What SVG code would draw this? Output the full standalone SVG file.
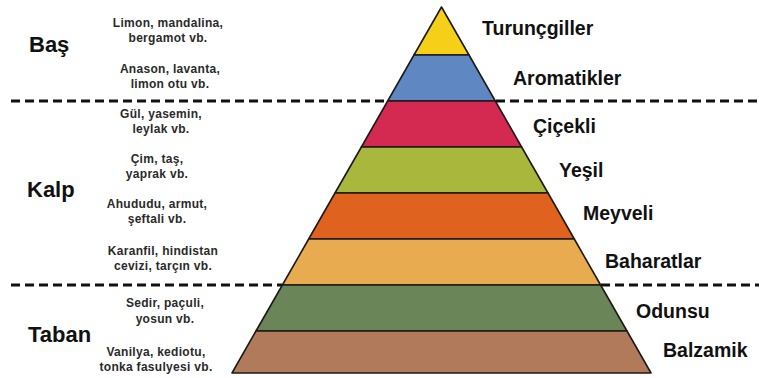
<svg xmlns="http://www.w3.org/2000/svg" width="759" height="378" viewBox="0 0 759 378">
  <style>
    .layer { stroke: #1c1a18; stroke-width: 1.6; stroke-linejoin: round; }
    .dash { stroke: #111; stroke-width: 3; stroke-dasharray: 9 5; fill: none; }
    .big { font-family: "Liberation Sans", Arial, sans-serif; font-weight: bold; font-size: 22px; fill: #111; }
    .note { font-family: "Liberation Sans", Arial, sans-serif; font-weight: bold; font-size: 12px; letter-spacing: 0.3px; fill: #2a2a2a; text-anchor: middle; }
    .cat { font-family: "Liberation Sans", Arial, sans-serif; font-weight: bold; font-size: 19.5px; fill: #111; }
  </style>
  <rect width="759" height="378" fill="#ffffff"/>

  <g id="connectors">
    <line class="dash" x1="11" y1="101" x2="387" y2="101"/>
    <line class="dash" x1="496" y1="101" x2="759" y2="101"/>
    <line class="dash" x1="11" y1="285" x2="282" y2="285"/>
    <line class="dash" x1="601" y1="285" x2="759" y2="285"/>
  </g>

  <g id="pyramid">
    <g id="turuncgiller">
      <polygon class="layer" fill="#f6d018" points="441.5,7 469,55 414,55"/>
      <text class="cat" x="482" y="35">Turunçgiller</text>
    </g>
    <g id="aromatikler">
      <polygon class="layer" fill="#5f88c3" points="414,55 469,55 495.3,101 387.7,101"/>
      <text class="cat" x="513" y="85">Aromatikler</text>
    </g>
    <g id="cicekli">
      <polygon class="layer" fill="#d42a51" points="387.7,101 495.3,101 521.6,147 361.4,147"/>
      <text class="cat" x="533" y="133">Çiçekli</text>
    </g>
    <g id="yesil">
      <polygon class="layer" fill="#a9b73d" points="361.4,147 521.6,147 548,193 335,193"/>
      <text class="cat" x="559" y="177">Yeşil</text>
    </g>
    <g id="meyveli">
      <polygon class="layer" fill="#e0621f" points="335,193 548,193 574.3,239 308.7,239"/>
      <text class="cat" x="583" y="220">Meyveli</text>
    </g>
    <g id="baharatlar">
      <polygon class="layer" fill="#e8ab50" points="308.7,239 574.3,239 600.6,285 282.4,285"/>
      <text class="cat" x="605" y="268">Baharatlar</text>
    </g>
    <g id="odunsu">
      <polygon class="layer" fill="#6a8659" points="282.4,285 600.6,285 627,331 256,331"/>
      <text class="cat" x="636" y="318">Odunsu</text>
    </g>
    <g id="balzamik">
      <polygon class="layer" fill="#b17b5b" points="256,331 627,331 651,373 232,373"/>
      <text class="cat" x="663" y="357">Balzamik</text>
    </g>
  </g>

  <g id="bas">
    <text class="big" x="29" y="52">Baş</text>
    <text class="note" x="168" y="27">Limon, mandalina,</text>
    <text class="note" x="168" y="42">bergamot vb.</text>
    <text class="note" x="170" y="73">Anason, lavanta,</text>
    <text class="note" x="170" y="88">limon otu vb.</text>
  </g>

  <g id="kalp">
    <text class="big" x="27" y="197">Kalp</text>
    <text class="note" x="161" y="118">Gül, yasemin,</text>
    <text class="note" x="161" y="133">leylak vb.</text>
    <text class="note" x="157" y="163">Çim, taş,</text>
    <text class="note" x="157" y="178">yaprak vb.</text>
    <text class="note" x="157" y="208">Ahududu, armut,</text>
    <text class="note" x="157" y="223">şeftali vb.</text>
    <text class="note" x="163" y="255">Karanfil, hindistan</text>
    <text class="note" x="163" y="270">cevizi, tarçın vb.</text>
  </g>

  <g id="taban">
    <text class="big" x="28" y="342">Taban</text>
    <text class="note" x="165" y="307">Sedir, paçuli,</text>
    <text class="note" x="165" y="323">yosun vb.</text>
    <text class="note" x="156" y="356">Vanilya, kediotu,</text>
    <text class="note" x="156" y="371">tonka fasulyesi vb.</text>
  </g>
</svg>
